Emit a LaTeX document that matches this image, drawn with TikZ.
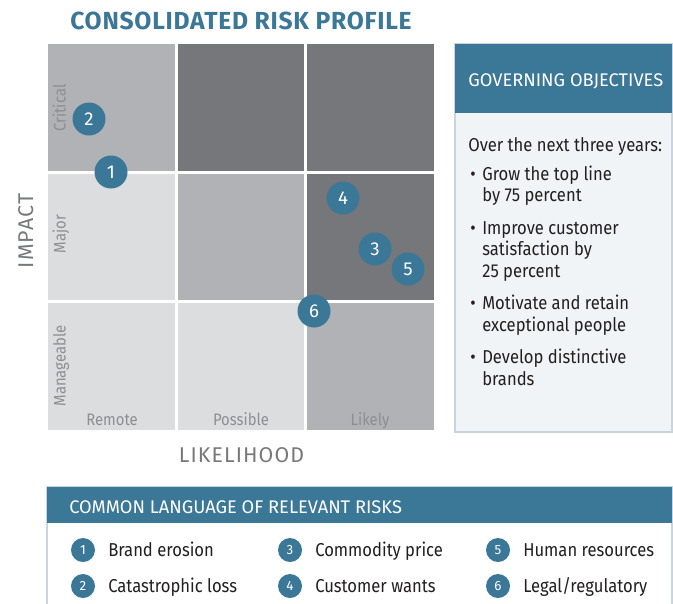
\documentclass[tikz,border=0pt]{standalone}
\usepackage{fontspec}
\setmainfont{Fira Sans}
\newfontfamily\narrowfont[FakeStretch=0.89]{Fira Sans}
\newfontfamily\spacedfont[LetterSpace=5]{Fira Sans}
\newfontfamily\titlefont[LetterSpace=3]{Fira Sans}

\definecolor{RiskTeal}{HTML}{3B7797}
\definecolor{CellLight}{HTML}{DCDDDF}
\definecolor{CellMid}{HTML}{B1B2B6}
\definecolor{CellDark}{HTML}{76777B}
\definecolor{AxisGray}{HTML}{77787B}
\definecolor{LabelGray}{HTML}{8D8E91}
\definecolor{PanelFill}{HTML}{F1F4F7}
\definecolor{PanelEdge}{HTML}{C9D5DE}
\definecolor{TextDark}{HTML}{231F20}

\begin{document}
\begin{tikzpicture}[x=0.75pt,y=-0.75pt,
    riskdot/.style={circle,fill=RiskTeal,text=white,inner sep=0pt,minimum size=24.75pt,font=\fontsize{14}{14}\selectfont},
    keydot/.style={circle,fill=RiskTeal,text=white,inner sep=0pt,minimum size=18pt,font=\fontsize{10}{10}\selectfont},
    cellname/.style={text=LabelGray,inner sep=0pt,anchor=base,font=\narrowfont\fontsize{12.5}{12.5}\selectfont},
    axisname/.style={text=AxisGray,inner sep=0pt,anchor=base,font=\spacedfont\fontsize{16}{16}\selectfont},
    bodytext/.style={text=TextDark,inner sep=0pt,anchor=base west,font=\narrowfont\fontsize{14}{14}\selectfont},
    headtext/.style={text=white,inner sep=0pt,anchor=base west,font=\fontsize{13.7}{13.7}\selectfont}]

    \useasboundingbox (0,0) rectangle (673,603);

    % risk matrix
    \fill[CellMid]   (48,44)  rectangle (175,171);
    \fill[CellDark]  (178,44) rectangle (304,171);
    \fill[CellDark]  (307,44) rectangle (434,171);
    \fill[CellLight] (48,174)  rectangle (175,300);
    \fill[CellMid]   (178,174) rectangle (304,300);
    \fill[CellDark]  (307,174) rectangle (434,300);
    \fill[CellLight] (48,303)  rectangle (175,430);
    \fill[CellLight] (178,303) rectangle (304,430);
    \fill[CellMid]   (307,303) rectangle (434,430);

    \node[text=RiskTeal,inner sep=0pt,anchor=base,font=\titlefont\bfseries\fontsize{18.5}{18.5}\selectfont] (title) at (241,29) {CONSOLIDATED RISK PROFILE};

    \node[cellname,rotate=90] (critical) at (65.5,108) {Critical};
    \node[cellname,rotate=90] (major) at (65.5,234) {Major};
    \node[cellname,rotate=90] (manageable) at (65.5,366) {Manageable};
    \node[cellname] (remote) at (112,425) {Remote};
    \node[cellname] (possible) at (241,425) {Possible};
    \node[cellname] (likely) at (370,425) {Likely};

    \node[axisname,rotate=90] (impact) at (33,231) {IMPACT};
    \node[axisname] (likelihood) at (241.5,462) {LIKELIHOOD};

    \node[riskdot] (d1) at (111,172) {1};
    \node[riskdot] (d2) at (89,119) {2};
    \node[riskdot] (d3) at (375,249) {3};
    \node[riskdot] (d4) at (343,198) {4};
    \node[riskdot] (d5) at (408,269) {5};
    \node[riskdot] (d6) at (314,311) {6};

    % objectives panel
    \draw[PanelEdge,line width=1.2pt,fill=PanelFill] (455,44) rectangle (672,432);
    \fill[RiskTeal] (455,44) rectangle (672,113);
    \node[headtext] (objhead) at (468,86.5) {GOVERNING OBJECTIVES};

    \node[bodytext] (intro) at (468,151.5) {Over the next three years:};
    \node[bodytext] (b1) at (470,180) {•};
    \node[bodytext] (o1a) at (482,180) {Grow the top line};
    \node[bodytext] (o1b) at (482,201.5) {by 75 percent};
    \node[bodytext] (b2) at (470,234) {•};
    \node[bodytext] (o2a) at (482,234) {Improve customer};
    \node[bodytext] (o2b) at (482,255.5) {satisfaction by};
    \node[bodytext] (o2c) at (482,277) {25 percent};
    \node[bodytext] (b3) at (470,309.5) {•};
    \node[bodytext] (o3a) at (482,309.5) {Motivate and retain};
    \node[bodytext] (o3b) at (482,331) {exceptional people};
    \node[bodytext] (b4) at (470,363.5) {•};
    \node[bodytext] (o4a) at (482,363.5) {Develop distinctive};
    \node[bodytext] (o4b) at (482,385) {brands};

    % legend panel
    \draw[PanelEdge,line width=1.2pt,fill=white] (47,487) rectangle (672,612);
    \fill[RiskTeal] (47,487) rectangle (672,523);
    \node[headtext] (keyhead) at (69,513.5) {COMMON LANGUAGE OF RELEVANT RISKS};

    \node[keydot] (k1) at (83,550) {1};
    \node[keydot] (k2) at (83,586) {2};
    \node[keydot] (k3) at (290,550) {3};
    \node[keydot] (k4) at (290,586) {4};
    \node[keydot] (k5) at (498,550) {5};
    \node[keydot] (k6) at (498,586) {6};
    \node[bodytext] (r1) at (108,556.5) {Brand erosion};
    \node[bodytext] (r2) at (108,592.5) {Catastrophic loss};
    \node[bodytext] (r3) at (315,556.5) {Commodity price};
    \node[bodytext] (r4) at (315,592.5) {Customer wants};
    \node[bodytext] (r5) at (523,556.5) {Human resources};
    \node[bodytext] (r6) at (523,592.5) {Legal/regulatory};
\end{tikzpicture}
\end{document}
